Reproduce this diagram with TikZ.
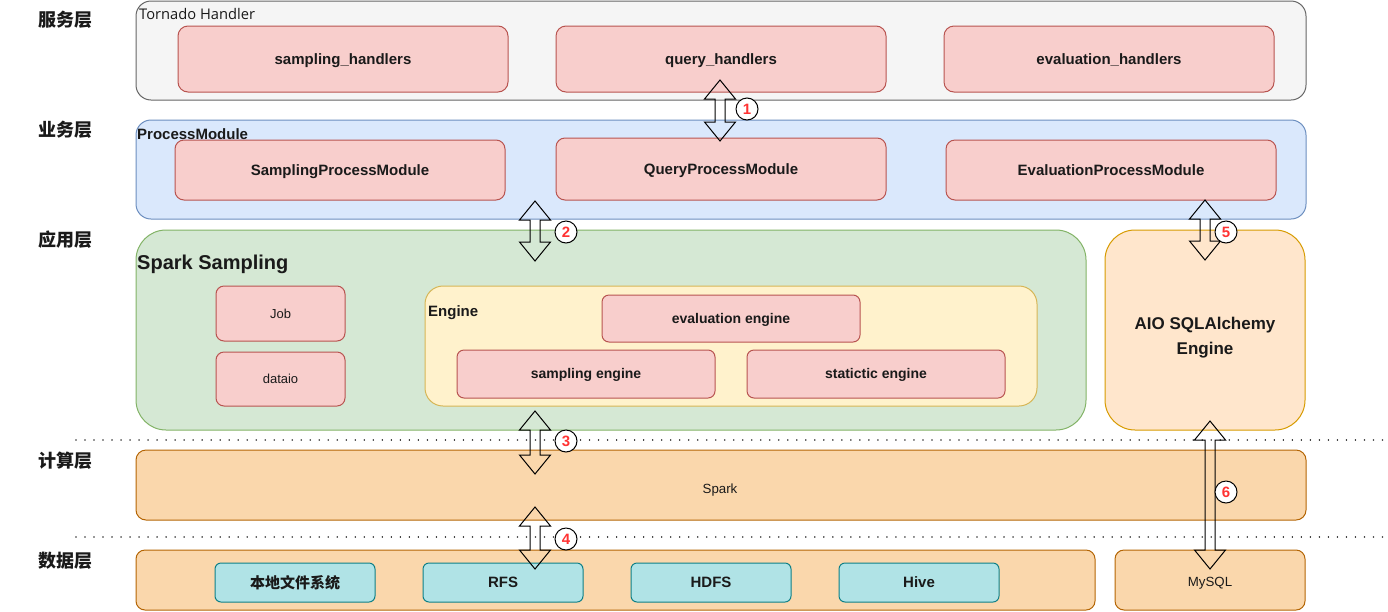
\documentclass[tikz,border=0pt]{standalone}
\usepackage{fontspec}
\setmainfont{Liberation Sans}
\newfontfamily\cjk{Noto Sans CJK SC}
\newfontfamily\tornadofont{Open Sans}
\usetikzlibrary{calc}
\definecolor{grayf}{HTML}{F5F5F5}\definecolor{grayd}{HTML}{666666}
\definecolor{redf}{HTML}{F8CECC}\definecolor{redd}{HTML}{B85450}
\definecolor{bluef}{HTML}{DAE8FC}\definecolor{blued}{HTML}{6C8EBF}
\definecolor{greenf}{HTML}{D5E8D4}\definecolor{greend}{HTML}{82B366}
\definecolor{yelf}{HTML}{FFF2CC}\definecolor{yeld}{HTML}{D6B656}
\definecolor{lorf}{HTML}{FFE6CC}\definecolor{lord}{HTML}{D79B00}
\definecolor{orf}{HTML}{FAD7AC}\definecolor{ord}{HTML}{B46504}
\definecolor{tealf}{HTML}{B0E3E6}\definecolor{teald}{HTML}{0E8088}
\definecolor{numred}{HTML}{FF3333}
\definecolor{txt}{HTML}{1A1A1A}
\tikzset{
  box/.style={draw, line width=1pt, inner sep=0pt, outer sep=0pt, anchor=north west, align=center, text=txt},
  redbox/.style={box, fill=redf, draw=redd},
  tealbox/.style={box, fill=tealf, draw=teald},
  fb/.style={font=\bfseries\fontsize{#1}{#1}\selectfont,
    /utils/exec={\pgfmathsetlengthmacro\mytxth{0.71*#1}}, text height=\mytxth, text depth=0pt},
  fr/.style={font=\fontsize{#1}{#1}\selectfont,
    /utils/exec={\pgfmathsetlengthmacro\mytxth{0.71*#1}}, text height=\mytxth, text depth=0pt},
  layerlbl/.style={font=\cjk\bfseries\fontsize{18}{20}\selectfont, text=txt, inner sep=0pt},
  title/.style={anchor=west, inner sep=0pt, text=txt},
  numc/.style={circle, draw, fill=white, line width=1pt, minimum size=22pt, inner sep=0pt, text=numred, font=\bfseries\fontsize{15}{15}\selectfont},
  blockarrow/.style={draw=black, line width=1pt},
  dotline/.style={line width=1.6pt, dash pattern=on 0.01pt off 9pt, line cap=round, color=black!80}
}
\newcommand\dblarrow[2]{%
  \draw[blockarrow] let \p1=(#1), \p2=(#2) in
  (\x1,\y1) -- (\x1+15.5pt,\y1-19pt) -- (\x1+5pt,\y1-19pt) -- (\x1+5pt,\y2+19pt)
  -- (\x1+15.5pt,\y2+19pt) -- (\x2,\y2) -- (\x1-15.5pt,\y2+19pt) -- (\x1-5pt,\y2+19pt)
  -- (\x1-5pt,\y1-19pt) -- (\x1-15.5pt,\y1-19pt) -- cycle;}
\begin{document}
\begin{tikzpicture}[x=1pt,y=-1pt]
\useasboundingbox (0,0) rectangle (1388,611);
% layer labels
\node[layerlbl] (l1) at (65,20) {服务层};
\node[layerlbl] (l2) at (65,130) {业务层};
\node[layerlbl] (l3) at (65,240) {应用层};
\node[layerlbl] (l4) at (65,461) {计算层};
\node[layerlbl] (l5) at (65,561) {数据层};
% dotted separators
\coordinate (d1l) at (76,440); \coordinate (d1r) at (1388,440);
\coordinate (d2l) at (76,537); \coordinate (d2r) at (1388,537);
\draw[dotline] (d1l) -- (d1r);
\draw[dotline] (d2l) -- (d2r);
% service layer
\node[box, fill=grayf, draw=grayd, rounded corners=15pt, minimum width=1170pt, minimum height=99pt] (tornado) at (136,1) {};
\node[title, font=\tornadofont\fontsize{14.7}{15}\selectfont, text height=10.4pt, text depth=0pt] (tornadot) at (139,14) {Tornado Handler};
\node[redbox, rounded corners=10pt, minimum width=330pt, minimum height=66pt, fb=15] (sh) at (178,26) {sampling\_handlers};
\node[redbox, rounded corners=10pt, minimum width=330pt, minimum height=66pt, fb=15] (qh) at (556,26) {query\_handlers};
\node[redbox, rounded corners=10pt, minimum width=330pt, minimum height=66pt, fb=15] (eh) at (944,26) {evaluation\_handlers};
% business layer
\node[box, fill=bluef, draw=blued, rounded corners=15pt, minimum width=1170pt, minimum height=99pt] (pm) at (136,120) {};
\node[title, fb=15] (pmt) at (137,134) {ProcessModule};
\node[redbox, rounded corners=9pt, minimum width=330pt, minimum height=60pt, fb=15] (spm) at (175,140) {SamplingProcessModule};
\node[redbox, rounded corners=9pt, minimum width=330pt, minimum height=62pt, fb=15] (qpm) at (556,138) {QueryProcessModule};
\node[redbox, rounded corners=9pt, minimum width=330pt, minimum height=60pt, fb=15] (epm) at (946,140) {EvaluationProcessModule};
% application layer
\node[box, fill=greenf, draw=greend, rounded corners=30pt, minimum width=950pt, minimum height=200pt] (ss) at (136,230) {};
\node[title, fb=20] (sst) at (137,262) {Spark Sampling};
\node[redbox, rounded corners=8pt, minimum width=129pt, minimum height=55pt, fr=13] (job) at (216,286) {Job};
\node[redbox, rounded corners=8pt, minimum width=129pt, minimum height=54pt, fr=13] (dataio) at (216,352) {dataio};
\node[box, fill=yelf, draw=yeld, rounded corners=18pt, minimum width=612pt, minimum height=120pt] (engine) at (425,286) {};
\node[title, fb=15] (enginet) at (428,311) {Engine};
\node[redbox, rounded corners=7pt, minimum width=258pt, minimum height=47pt, fb=14] (ee) at (602,295) {evaluation engine};
\node[redbox, rounded corners=7pt, minimum width=258pt, minimum height=48pt, fb=14] (se) at (457,350) {sampling engine};
\node[redbox, rounded corners=7pt, minimum width=258pt, minimum height=48pt, fb=14] (ste) at (747,350) {statictic engine};
\node[box, fill=lorf, draw=lord, rounded corners=30pt, minimum width=200pt, minimum height=200pt] (aio) at (1105,230) {};
\node[align=center, inner sep=0pt, text=txt, font=\bfseries\fontsize{17}{25}\selectfont] (aiot) at (1205,338) {AIO SQLAlchemy\\Engine};
% compute layer
\node[box, fill=orf, draw=ord, rounded corners=10pt, minimum width=1170pt, minimum height=70pt] (spark) at (136,450) {};
\node[inner sep=0pt, text=txt, fr=13.3] (sparkt) at (720,489) {Spark};
% data layer
\node[box, fill=orf, draw=ord, rounded corners=9pt, minimum width=959pt, minimum height=60pt] (data) at (136,550) {};
\node[tealbox, rounded corners=6pt, minimum width=160pt, minimum height=39pt, font=\cjk\bfseries\fontsize{15}{15}\selectfont] (local) at (215,563) {本地文件系统};
\node[tealbox, rounded corners=6pt, minimum width=160pt, minimum height=39pt, fb=15] (rfs) at (423,563) {RFS};
\node[tealbox, rounded corners=6pt, minimum width=160pt, minimum height=39pt, fb=15] (hdfs) at (631,563) {HDFS};
\node[tealbox, rounded corners=6pt, minimum width=160pt, minimum height=39pt, fb=15] (hive) at (839,563) {Hive};
\node[box, fill=orf, draw=ord, rounded corners=9pt, minimum width=190pt, minimum height=60pt] (mysql) at (1115,550) {};
\node[inner sep=0pt, text=txt, fr=13.3] (mysqlt) at (1210,582) {MySQL};
% block arrows
\coordinate (a1t) at (720,80);  \coordinate (a1b) at (720,141);
\coordinate (a2t) at (535,201); \coordinate (a2b) at (535,261);
\coordinate (a3t) at (535,411); \coordinate (a3b) at (535,474);
\coordinate (a4t) at (535,507); \coordinate (a4b) at (535,569);
\coordinate (a5t) at (1205,200); \coordinate (a5b) at (1205,260);
\coordinate (a6t) at (1210,421); \coordinate (a6b) at (1210,569);
\dblarrow{a1t}{a1b}
\dblarrow{a2t}{a2b}
\dblarrow{a3t}{a3b}
\dblarrow{a4t}{a4b}
\dblarrow{a5t}{a5b}
\dblarrow{a6t}{a6b}
% numbered circles
\node[numc] (c1) at (747,109) {1};
\node[numc] (c2) at (566,232) {2};
\node[numc] (c3) at (566,441) {3};
\node[numc] (c4) at (566,539) {4};
\node[numc] (c5) at (1226,232) {5};
\node[numc] (c6) at (1226,492) {6};
\end{tikzpicture}
\end{document}
